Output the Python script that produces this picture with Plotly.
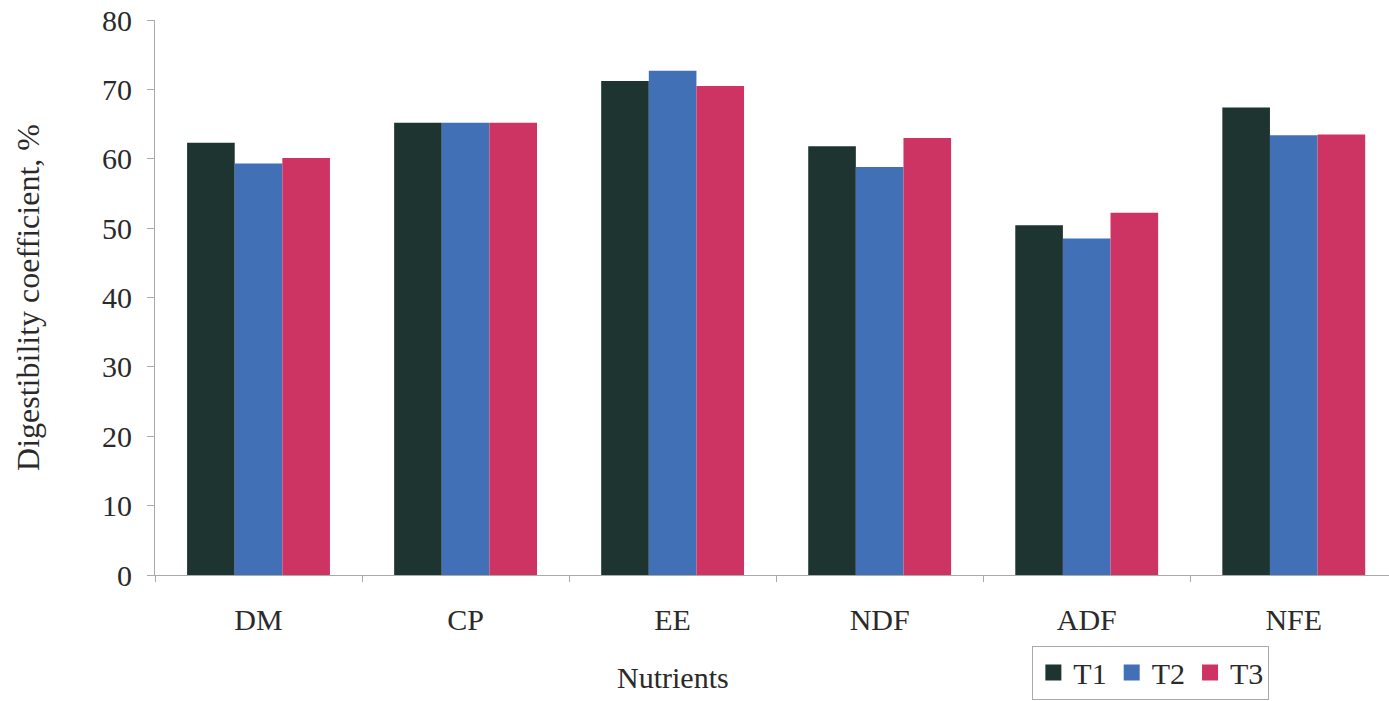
import plotly.graph_objects as go

categories = ["DM", "CP", "EE", "NDF", "ADF", "NFE"]
t1 = [62.3, 65.2, 71.2, 61.8, 50.4, 67.4]
t2 = [59.3, 65.2, 72.7, 58.8, 48.5, 63.4]
t3 = [60.1, 65.2, 70.5, 63.0, 52.2, 63.5]
series_names = ["T1", "T2", "T3"]
colors = ["#1d3431", "#4170b6", "#cd3464"]

fig = go.Figure()
for name, vals, col in zip(series_names, [t1, t2, t3], colors):
    fig.add_trace(go.Bar(x=categories, y=vals, name=name, marker_color=col,
                         marker_line_width=0, showlegend=False))
# legend entries with larger square swatches
for name, col in zip(series_names, colors):
    fig.add_trace(go.Scatter(x=[None], y=[None], mode="markers", name=name,
                             marker=dict(symbol="square", size=20, color=col)))

font_family = "Liberation Serif, Times New Roman, serif"
fig.update_layout(
    width=1389, height=701,
    margin=dict(l=155, r=0, t=20, b=126),
    paper_bgcolor="white", plot_bgcolor="white",
    barmode="group", bargap=0.31, bargroupgap=0,
    font=dict(family=font_family, color="#2a2a2a", size=30),
    showlegend=True,
    legend=dict(orientation="h", x=0.711, xanchor="left",
                yref="container", y=0.002, yanchor="bottom",
                bordercolor="#aaa", borderwidth=1, font=dict(size=30, family=font_family),
                itemwidth=30, tracegroupgap=0, itemsizing="trace"),
    xaxis=dict(range=[-0.5, 5.46], showline=True, linecolor="#aaa", linewidth=1,
               ticks="outside", tickson="boundaries", ticklen=6, tickcolor="#aaa",
               tickfont=dict(size=30), showgrid=False, ticklabelstandoff=18,
               automargin=False),
    yaxis=dict(range=[0, 80], dtick=10, showline=True, linecolor="#aaa", linewidth=1,
               ticks="outside", ticklen=7, tickcolor="#aaa", showgrid=False, zeroline=False,
               tickfont=dict(size=30), ticklabelstandoff=9, automargin=False,
               title=dict(text="Digestibility coefficient, %", font=dict(size=32), standoff=52)),
    annotations=[dict(text="Nutrients", xref="x", x=2, yref="paper", y=-0.184,
                      yanchor="middle", xanchor="center", showarrow=False,
                      font=dict(size=30, family=font_family, color="#2a2a2a"))],
)

fig.write_html("out.html")
